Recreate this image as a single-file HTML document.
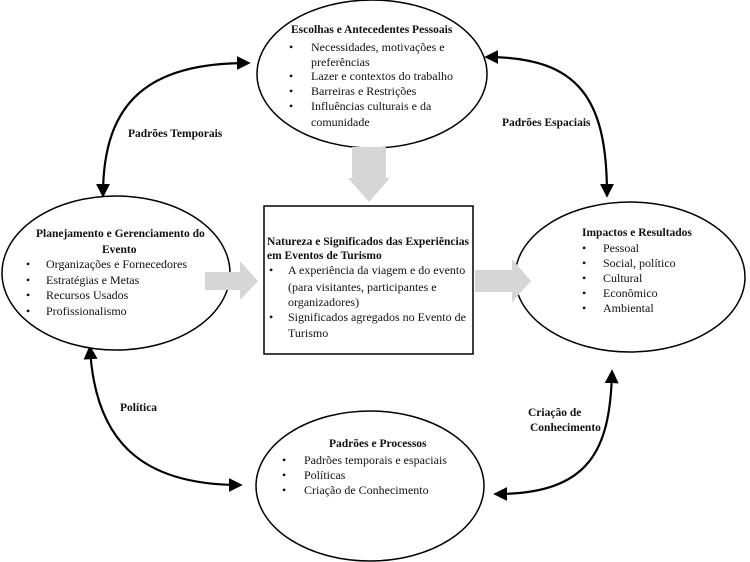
<!DOCTYPE html>
<html><head><meta charset="utf-8"><style>
html,body{margin:0;padding:0;background:#fff;}
svg{display:block;font-family:"Liberation Serif",serif;}
.t{font-size:12px;fill:#111;}
.b{font-size:11.5px;font-weight:bold;fill:#111;}
</style></head><body>
<svg width="750" height="562" viewBox="0 0 750 562" xmlns="http://www.w3.org/2000/svg">
<defs>
<marker id="ah2" viewBox="0 0 10 10" markerWidth="14" markerHeight="14" refX="8" refY="5" orient="auto-start-reverse" markerUnits="userSpaceOnUse"><path d="M0,0 L10,5 L0,10 z" fill="#000"/></marker></defs>
<!-- curved connectors -->
<g fill="none" stroke="#000" stroke-width="2.2">
<path d="M248,63 C150,63 103,100 103,195" marker-start="url(#ah2)" marker-end="url(#ah2)"/>
<path d="M487,57 C580,57 607,100 607,195" marker-start="url(#ah2)" marker-end="url(#ah2)"/>
<path d="M90,348 C95,440 140,485 240,485" marker-start="url(#ah2)" marker-end="url(#ah2)"/>
<path d="M496,494 C590,494 610,450 612,372" marker-start="url(#ah2)" marker-end="url(#ah2)"/>
</g>
<!-- ellipses -->
<g fill="#fff" stroke="#000" stroke-width="1.5">
<ellipse cx="372" cy="74" rx="115" ry="74"/>
<ellipse cx="116" cy="273" rx="114" ry="77"/>
<ellipse cx="630" cy="277" rx="115" ry="75"/>
<ellipse cx="370" cy="486" rx="114" ry="75"/>
<rect x="264" y="206" width="209" height="148"/>
</g>
<!-- gray arrows -->
<path d="M352,147 H386 V178 H390 L369,202 L348,178 H352 Z" fill="#d6d6d6"/>
<path d="M205,272 H240 V261 L258,281 L240,300 V290 H205 Z" fill="#d6d6d6"/>
<path d="M475,270 H512 V259 L531,281 L512,302 V292 H475 Z" fill="#d6d6d6"/>
<!-- top -->
<text class="b" x="291" y="33">Escolhas e Antecedentes Pessoais</text>
<g class="t">
<text x="289" y="51">•</text><text x="311" y="51">Necessidades, motivações e</text>
<text x="311" y="66">preferências</text>
<text x="289" y="80">•</text><text x="311" y="80">Lazer e contextos do trabalho</text>
<text x="289" y="95">•</text><text x="311" y="95">Barreiras e Restrições</text>
<text x="289" y="110">•</text><text x="311" y="110">Influências culturais e da</text>
<text x="311" y="126">comunidade</text>
</g>
<!-- left -->
<text class="b" x="36" y="237">Planejamento e Gerenciamento do</text>
<text class="b" x="102" y="253">Evento</text>
<g class="t">
<text x="26" y="268">•</text><text x="46" y="268">Organizações e Fornecedores</text>
<text x="26" y="284">•</text><text x="46" y="284">Estratégias e Metas</text>
<text x="26" y="299">•</text><text x="46" y="299">Recursos Usados</text>
<text x="26" y="315">•</text><text x="46" y="315">Profissionalismo</text>
</g>
<!-- center -->
<text class="b" x="267" y="245" textLength="202" lengthAdjust="spacingAndGlyphs">Natureza e Significados das Experiências</text>
<text class="b" x="267" y="259">em Eventos de Turismo</text>
<g class="t">
<text x="269" y="274">•</text><text x="288" y="274">A experiência da viagem e do evento</text>
<text x="288" y="291">(para visitantes, participantes e</text>
<text x="288" y="306">organizadores)</text>
<text x="269" y="321">•</text><text x="288" y="321">Significados agregados no Evento de</text>
<text x="288" y="337">Turismo</text>
</g>
<!-- right -->
<text class="b" x="582" y="236">Impactos e Resultados</text>
<g class="t">
<text x="582" y="252">•</text><text x="603" y="252">Pessoal</text>
<text x="582" y="267">•</text><text x="603" y="267">Social, político</text>
<text x="582" y="282">•</text><text x="603" y="282">Cultural</text>
<text x="582" y="297">•</text><text x="603" y="297">Econômico</text>
<text x="582" y="312">•</text><text x="603" y="312">Ambiental</text>
</g>
<!-- bottom -->
<text class="b" x="329" y="447">Padrões e Processos</text>
<g class="t">
<text x="282" y="464">•</text><text x="304" y="464">Padrões temporais e espaciais</text>
<text x="282" y="479">•</text><text x="304" y="479">Políticas</text>
<text x="282" y="494">•</text><text x="304" y="494">Criação de Conhecimento</text>
</g>
<!-- connector labels -->
<text class="b" x="128" y="137">Padrões Temporais</text>
<text class="b" x="502" y="126">Padrões Espaciais</text>
<text class="b" x="120" y="411">Política</text>
<text class="b" x="528" y="416">Criação de</text>
<text class="b" x="530" y="431">Conhecimento</text>
</svg>
</body></html>
